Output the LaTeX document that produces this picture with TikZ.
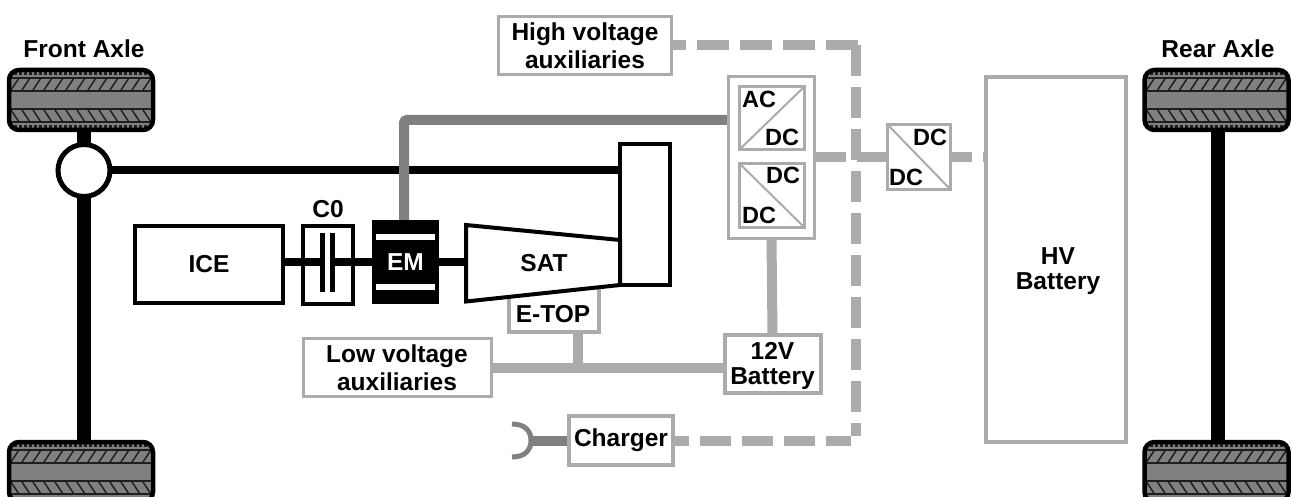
\documentclass[tikz,border=0pt]{standalone}
\usepackage{fontspec}
\setmainfont{Liberation Sans}
\usetikzlibrary{backgrounds}
\definecolor{lightg}{HTML}{ABABAB}
\definecolor{darkg}{HTML}{808080}
\definecolor{tyreline}{HTML}{1E1E1E}
\tikzset{
  lbl/.style={font=\fontsize{24.5}{28}\selectfont\bfseries,align=center,inner sep=0pt,outer sep=0pt},
  lblc/.style={lbl,font=\fontsize{23.5}{28}\selectfont\bfseries},
  boxk/.style={draw=black,line width=4pt,fill=white,rectangle,inner sep=0pt,outer sep=0pt,lbl},
  boxg/.style={draw=lightg,line width=3pt,fill=white,rectangle,inner sep=0pt,outer sep=0pt,lbl},
  boxgg/.style={boxg,line width=4pt},
  wire/.style={draw=lightg,line width=10pt},
  wired/.style={wire,dash pattern=on 31pt off 11pt},
  shaft/.style={draw=black,line width=8pt},
  axle/.style={draw=black,line width=14pt},
  tyre/.style={rectangle,draw=black,line width=4.5pt,fill=darkg,rounded corners=10pt,
    minimum width=144pt,minimum height=60pt,inner sep=0pt,outer sep=0pt,
    path picture={
      \begin{scope}[shift={(path picture bounding box.center)},sharp corners,draw=tyreline]
        \foreach \s in {-1,1}{
          \draw[line width=3pt,dash pattern=on 3.4pt off 1.6pt] (-72,\s*26.7) -- (72,\s*26.7);
          \draw[line width=2pt] (-72,\s*22) -- (72,\s*22);
          \draw[line width=2pt] (-72,\s*9) -- (72,\s*9);
        }
        \foreach \i in {-7,...,7}{
          \draw[line width=1.5pt] (\i*11-4,-10) -- (\i*11+4,-22);
          \draw[line width=1.5pt] (\i*11-4,10) -- (\i*11+4,22);
        }
      \end{scope}
    }},
}
\begin{document}
\begin{tikzpicture}[x=1pt,y=-1pt]
\path[use as bounding box,clip] (0,0) rectangle (1292,497);

% tyres
\node[tyre] (FT) at (81,100) {};
\node[tyre] (FB) at (81,472) {};
\node[tyre] (RT) at (1216.5,100) {};
\node[tyre] (RB) at (1216.5,472) {};
\node[lbl] (FL) at (84,49) {Front Axle};
\node[lbl] (RL) at (1218,49) {Rear Axle};
\node[circle,draw=black,line width=5pt,fill=white,minimum size=52pt,inner sep=0pt,outer sep=0pt] (Hub) at (84,170.5) {};

% driveline
\node[boxk,minimum width=148pt,minimum height=77pt] (ICE) at (209,264.5) {ICE};
\node[boxk,minimum width=50pt,minimum height=78pt,fill=none] (C0) at (328,265) {};
\node[lbl] (C0t) at (328,209) {C0};
\node[rectangle,fill=black,minimum width=67pt,minimum height=84pt,inner sep=0pt,outer sep=0pt,text=white,lbl] (EM) at (405.5,262) {EM};
\fill[white] (376,234) rectangle (435,240);
\fill[white] (376,284) rectangle (435,290);
\node[boxk,minimum width=50pt,minimum height=141pt] (Diff) at (645,214.5) {};
\node[boxgg,minimum width=90pt,minimum height=56pt] (ET) at (554,304) {};
\node[lbl] (ETt) at (553,314) {E-TOP};
\draw[line width=4pt,draw=black,fill=white,line join=miter] (466,225) -- (620,240) -- (620,285) -- (466,301.5) -- cycle;
\node[lbl] (SAT) at (544,263) {SAT};
\coordinate (SATw) at (466,262);
\coordinate (PL) at (322,262);
\coordinate (PR) at (332,262);
\fill[black] (319.5,233) rectangle (324.5,292);
\fill[black] (329.5,233) rectangle (334.5,292);

% converters
\node[boxg,minimum width=86pt,minimum height=162pt] (Conv) at (771.5,157.5) {};
\node[boxg,minimum width=65pt,minimum height=63pt] (AD) at (772,118) {};
\node[boxg,minimum width=65pt,minimum height=64pt] (DD) at (772,195.5) {};
\node[boxg,minimum width=63pt,minimum height=65pt] (DR) at (919,157) {};
\draw[draw=lightg,line width=2pt] (AD.south west) -- (AD.north east);
\draw[draw=lightg,line width=2pt] (DD.north west) -- (DD.south east);
\draw[draw=lightg,line width=2pt] (DR.north west) -- (DR.south east);
\node[lblc] (t1) at (759,99) {AC};
\node[lblc] (t2) at (782,137) {DC};
\node[lblc] (t3) at (783,175) {DC};
\node[lblc] (t4) at (759,215) {DC};
\node[lblc] (t5) at (930,137) {DC};
\node[lblc] (t6) at (906,177) {DC};

% electrical boxes
\node[boxg,minimum width=173pt,minimum height=58pt] (HA) at (585,45.5) {High voltage\\auxiliaries};
\node[boxg,minimum width=188pt,minimum height=58pt] (LA) at (397,367.5) {Low voltage\\auxiliaries};
\node[boxgg,minimum width=96pt,minimum height=58pt] (B12) at (772.5,364) {};
\node[lbl,font=\fontsize{24.5}{25}\selectfont\bfseries] (B12t) at (772.5,365.5) {12V\\Battery};
\node[boxgg,minimum width=104pt,minimum height=49pt] (CH) at (621,440.5) {Charger};
\node[boxgg,minimum width=140pt,minimum height=365pt] (HV) at (1056,259.5) {};
\node[lbl,font=\fontsize{24.5}{25}\selectfont\bfseries] (HVt) at (1058,271.5) {HV\\Battery};
\coordinate (Tap) at (856,45);
\coordinate (Tbp) at (856,441);
\coordinate (Plug) at (531,440.5);
\coordinate (InvIn) at (728,120);

\begin{scope}[on background layer]
  \draw[axle] (Hub |- FT.south) -- (Hub);
  \draw[axle] (Hub) -- (Hub |- FB.north);
  \draw[axle] ([xshift=1.5pt]RT.south) -- ([xshift=1.5pt]RB.north);
  \draw[shaft] (Hub) -- (Diff.west |- Hub);
  \draw[shaft] (ICE.east |- EM) -- (PL);
  \draw[shaft] (PR) -- (EM);
  \draw[shaft] (EM) -- (SATw);
  \draw[draw=darkg,line width=10pt,rounded corners=3pt] ([xshift=-1.5pt]EM.north) |- (InvIn);
  \draw[wire] (Conv.south) -- (B12.north);
  \draw[wire] (LA.east) -- (B12.west |- LA.east);
  \draw[wire] ([xshift=24pt]ET.south) -- ([xshift=24pt]ET.south |- LA.east);
  \draw[draw=darkg,line width=10pt] (CH.west) -- (Plug);
  \draw[draw=darkg,line width=5pt] (512,424) .. controls (526,424) and (531,432) .. (Plug) .. controls (531,449) and (526,457) .. (512,457);
  % dashed high voltage bus
  \draw[wire,dash pattern=on 31pt off 11pt] (Conv.east |- DR) -- (HV.west |- DR);
  \draw[wire,dash pattern=on 32pt off 11pt] ([xshift=2pt]Tap) -- (HA.east |- Tap);
  \draw[wired] (Tap) -- ([yshift=5pt]Tbp);
  \draw[wired,dash phase=15pt] (CH.east |- Tbp) -- ([xshift=-5pt]Tbp);
\end{scope}
\end{tikzpicture}
\end{document}
